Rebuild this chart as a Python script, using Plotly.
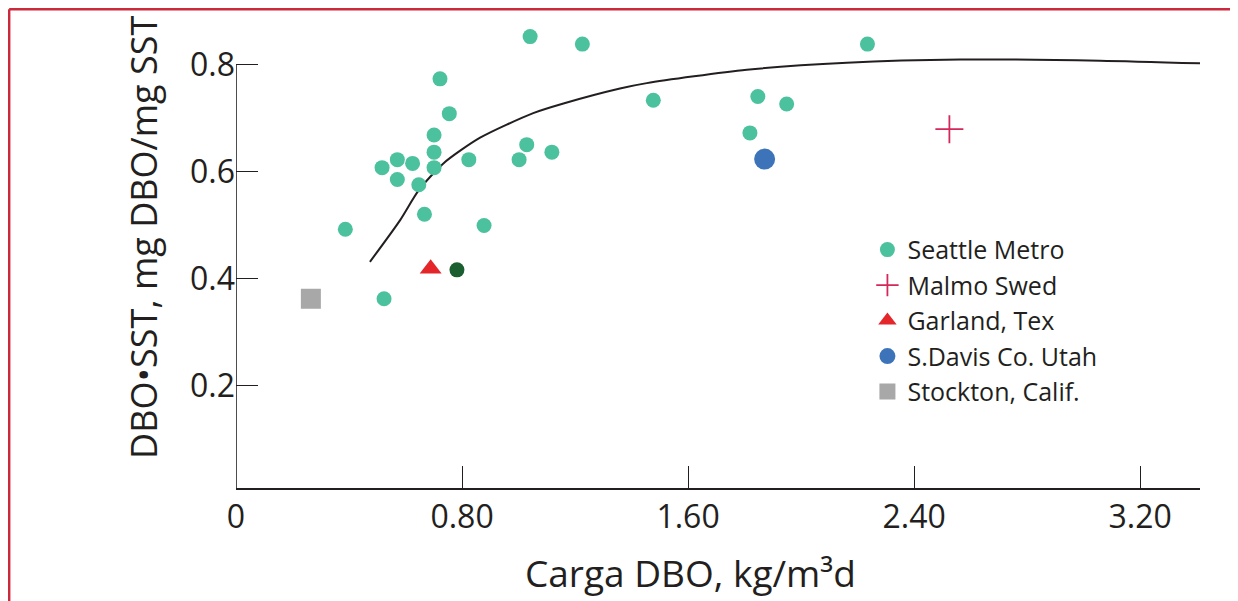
import plotly.graph_objects as go

# ---- data ----
seattle_x = [1.041, 1.226, 0.722, 0.755, 0.701, 1.029, 0.701, 0.571, 0.625, 0.517,
             0.701, 0.824, 1.002, 1.118, 0.571, 0.647, 0.667, 0.387, 0.878, 0.524,
             2.235, 1.477, 1.847, 1.949, 1.819]
seattle_y = [0.853, 0.839, 0.774, 0.709, 0.669, 0.651, 0.637, 0.623, 0.616, 0.608,
             0.608, 0.623, 0.623, 0.637, 0.586, 0.576, 0.521, 0.493, 0.500, 0.363,
             0.839, 0.734, 0.741, 0.727, 0.673]
dark_x = [0.782]
dark_y = [0.417]
malmo_x = [2.525]
malmo_y = [0.680]
garland_x = [0.689]
garland_y = [0.419]
davis_x = [1.871]
davis_y = [0.624]
stockton_x = [0.265]
stockton_y = [0.363]
curve_x = [0.474, 0.581, 0.647, 0.734, 0.864, 1.052, 1.159, 1.359, 1.454,
           1.808, 2.162, 2.563, 3.058, 3.412]
curve_y = [0.432, 0.510, 0.566, 0.616, 0.664, 0.710, 0.728, 0.756, 0.766,
           0.791, 0.804, 0.810, 0.808, 0.803]
x_ticks = [0, 0.8, 1.6, 2.4, 3.2]
x_tick_text = ["0", "0.80", "1.60", "2.40", "3.20"]
y_ticks = [0.2, 0.4, 0.6, 0.8]
y_tick_text = ["0.2", "0.4", "0.6", "0.8"]
x_title = "Carga DBO, kg/m³d"
y_title = "DBO•SST, mg DBO/mg SST"

X_RANGE = [0, 3.412]
Y_RANGE = [0.0093, 0.884]
INK = "#231f20"
FONT = "Open Sans"
FRAME = "#cc2a3c"

fig = go.Figure()
fig.add_trace(go.Scatter(x=curve_x, y=curve_y, mode="lines", showlegend=False,
                         line=dict(color=INK, width=2, shape="spline", smoothing=0.7),
                         hoverinfo="skip"))
fig.add_trace(go.Scatter(x=seattle_x, y=seattle_y, mode="markers", name="Seattle Metro",
                         marker=dict(color="#4bc19d", size=15, line=dict(width=0)),
                         cliponaxis=False))
fig.add_trace(go.Scatter(x=malmo_x, y=malmo_y, mode="markers", name="Malmo Swed",
                         marker=dict(symbol="cross-thin", color="#d4275a", size=20,
                                     line=dict(color="#d4275a", width=1.8))))
fig.add_trace(go.Scatter(x=garland_x, y=garland_y, mode="markers", name="Garland, Tex",
                         marker=dict(symbol="triangle-up", color="#e4262b", size=19,
                                     line=dict(width=0))))
fig.add_trace(go.Scatter(x=davis_x, y=davis_y, mode="markers", name="S.Davis Co. Utah",
                         marker=dict(color="#3d74b9", size=21, line=dict(width=0))))
fig.add_trace(go.Scatter(x=stockton_x, y=stockton_y, mode="markers", name="Stockton, Calif.",
                         marker=dict(symbol="square", color="#a8a8a8", size=20,
                                     line=dict(width=0))))
fig.add_trace(go.Scatter(x=dark_x, y=dark_y, mode="markers", showlegend=False,
                         marker=dict(color="#1b5e30", size=15, line=dict(width=0))))

# y axis line (only up to 0.8, as in the reference)
fig.add_shape(type="line", xref="x", yref="y", x0=0, x1=0, y0=Y_RANGE[0], y1=0.8,
              line=dict(color=INK, width=1.6))
# red frame: top and left edges, kept inside the figure
fig.add_shape(type="line", xref="paper", yref="paper", x0=-0.2353, x1=1.035, y0=1.0231, y1=1.0231,
              line=dict(color=FRAME, width=2.5))
fig.add_shape(type="line", xref="paper", yref="paper", x0=-0.2353, x1=-0.2353, y0=-0.2585, y1=1.0231,
              line=dict(color=FRAME, width=2.5))

# axis titles
fig.add_annotation(text=x_title, xref="paper", yref="paper", x=0.471, y=-0.1816,
                   xanchor="center", yanchor="middle", showarrow=False,
                   font=dict(size=37, family=FONT, color=INK))
fig.add_annotation(text=y_title, xref="paper", yref="paper", x=-0.0965, y=0.5363,
                   xanchor="center", yanchor="middle", showarrow=False, textangle=-90,
                   font=dict(size=36, family=FONT, color=INK))

fig.update_layout(
    width=1238, height=601,
    margin=dict(l=228, r=46, t=12, b=121),
    paper_bgcolor="white", plot_bgcolor="white",
    font=dict(family=FONT, color=INK),
    legend=dict(x=0.655, y=0.558, xanchor="left", yanchor="top",
                font=dict(size=25, color=INK, family=FONT),
                bgcolor="rgba(0,0,0,0)", tracegroupgap=0, itemwidth=30),
    xaxis=dict(range=X_RANGE, showgrid=False, zeroline=False,
               showline=True, linecolor=INK, linewidth=1.6,
               ticks="inside", ticklen=22, tickwidth=1.4, tickcolor=INK,
               tickvals=x_ticks, ticktext=x_tick_text,
               tickfont=dict(size=32, family=FONT, color=INK)),
    yaxis=dict(range=Y_RANGE, showgrid=False, zeroline=False, showline=False,
               ticks="inside", ticklen=22, tickwidth=1.4, tickcolor=INK,
               tickvals=y_ticks, ticktext=y_tick_text,
               tickfont=dict(size=32, family=FONT, color=INK)),
)

fig.write_html("out.html")
